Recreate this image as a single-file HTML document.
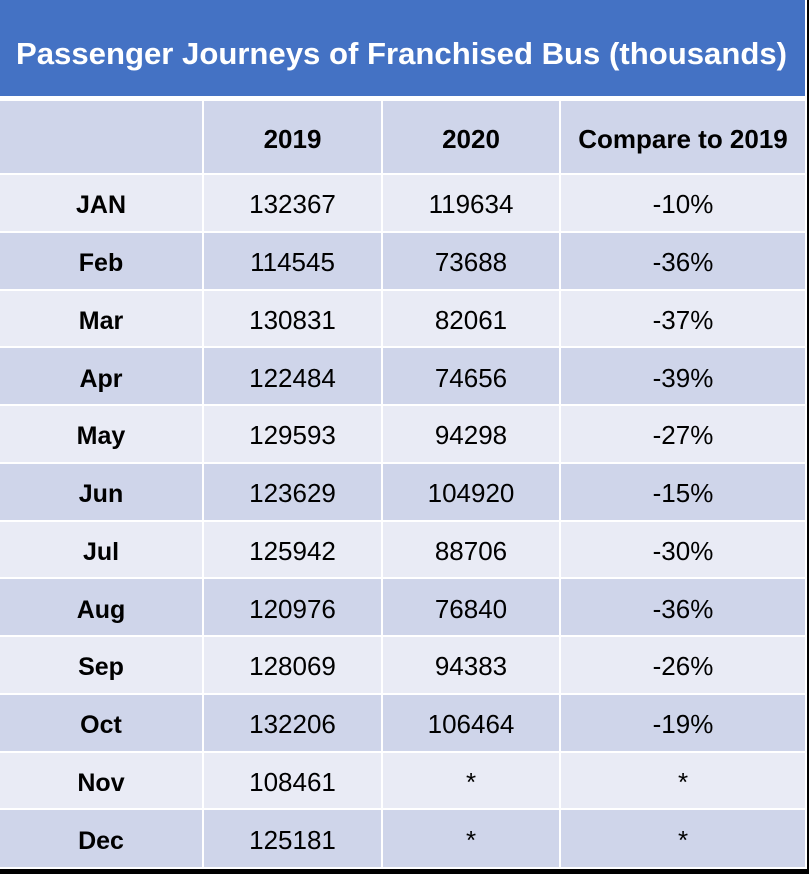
<!DOCTYPE html>
<html>
<head>
<meta charset="utf-8">
<style>
  html, body { margin: 0; padding: 0; }
  body {
    width: 809px; height: 874px; overflow: hidden; position: relative;
    background: #ffffff;
    font-family: "Liberation Sans", "DejaVu Sans", sans-serif;
    color: #000;
  }
  .title {
    position: absolute; left: 0; top: 0; width: 805px; height: 96px;
    background: #4472C4;
  }
  .row {
    position: absolute; left: 0; width: 805px;
    display: grid;
    grid-template-columns: 202px 177px 176px 244px;
    column-gap: 2px;
  }
  .row > div {
    display: flex; align-items: center; justify-content: center;
    font-size: 26px; line-height: 1;
    box-sizing: border-box; padding-top: 3px;
  }
  .hdr > div { background: #CFD5EA; font-weight: bold; padding-top: 3px; }
  .d > div { background: #CFD5EA; }
  .l > div { background: #E9EBF5; }
  .row > div.m { font-weight: bold; font-size: 25px; padding-top: 6px; }
  .blk-r { position: absolute; left: 807px; top: 0; width: 2px; height: 874px; background: #000; }
  .blk-b { position: absolute; left: 0; top: 869px; width: 809px; height: 5px; background: #000; }
</style>
</head>
<body>
  <div class="title">
    <svg width="805" height="96" xmlns="http://www.w3.org/2000/svg" style="position:absolute;left:0;top:0">
      <text x="16" y="64" textLength="771" lengthAdjust="spacingAndGlyphs"
        font-family="Liberation Sans, DejaVu Sans, sans-serif" font-weight="bold"
        font-size="31" fill="#ffffff">Passenger Journeys of Franchised Bus (thousands)</text>
    </svg>
  </div>

  <div class="row hdr" style="top:101px;height:72px;">
    <div></div><div>2019</div><div>2020</div><div>Compare to 2019</div>
  </div>

  <div class="row l" style="top:175px;height:55.75px;">
    <div class="m">JAN</div><div>132367</div><div>119634</div><div>-10%</div>
  </div>
  <div class="row d" style="top:232.75px;height:55.75px;">
    <div class="m">Feb</div><div>114545</div><div>73688</div><div>-36%</div>
  </div>
  <div class="row l" style="top:290.5px;height:55.75px;">
    <div class="m">Mar</div><div>130831</div><div>82061</div><div>-37%</div>
  </div>
  <div class="row d" style="top:348.25px;height:55.75px;">
    <div class="m">Apr</div><div>122484</div><div>74656</div><div>-39%</div>
  </div>
  <div class="row l" style="top:406px;height:55.75px;">
    <div class="m">May</div><div>129593</div><div>94298</div><div>-27%</div>
  </div>
  <div class="row d" style="top:463.75px;height:55.75px;">
    <div class="m">Jun</div><div>123629</div><div>104920</div><div>-15%</div>
  </div>
  <div class="row l" style="top:521.5px;height:55.75px;">
    <div class="m">Jul</div><div>125942</div><div>88706</div><div>-30%</div>
  </div>
  <div class="row d" style="top:579.25px;height:55.75px;">
    <div class="m">Aug</div><div>120976</div><div>76840</div><div>-36%</div>
  </div>
  <div class="row l" style="top:637px;height:55.75px;">
    <div class="m">Sep</div><div>128069</div><div>94383</div><div>-26%</div>
  </div>
  <div class="row d" style="top:694.75px;height:55.75px;">
    <div class="m">Oct</div><div>132206</div><div>106464</div><div>-19%</div>
  </div>
  <div class="row l" style="top:752.5px;height:55.75px;">
    <div class="m">Nov</div><div>108461</div><div>*</div><div>*</div>
  </div>
  <div class="row d" style="top:810.25px;height:56.75px;">
    <div class="m">Dec</div><div>125181</div><div>*</div><div>*</div>
  </div>

  <div class="blk-r"></div>
  <div class="blk-b"></div>
</body>
</html>
